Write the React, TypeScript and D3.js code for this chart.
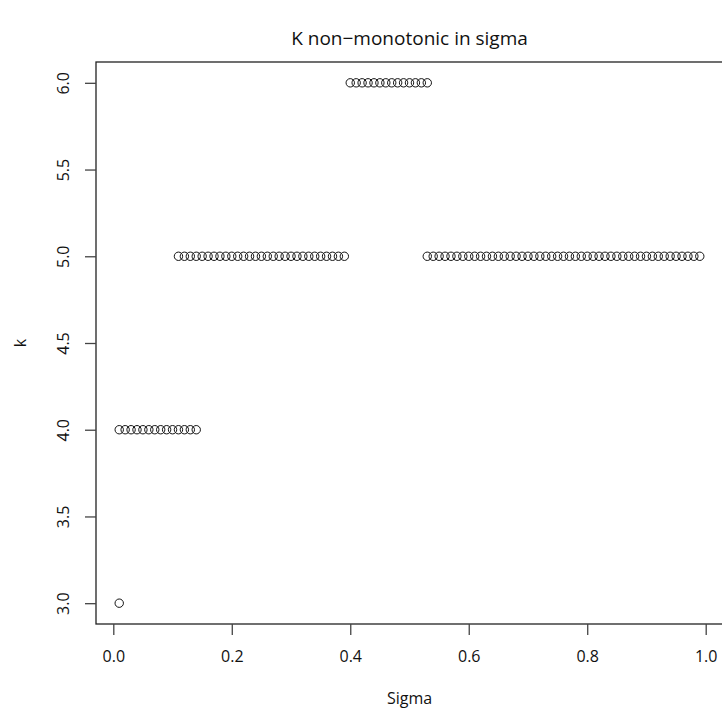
import * as d3 from "d3"
import { useEffect, useRef } from "react"

// sigma values, grouped by the k they produced
const sigmaK3 = [0.01]
const sigmaK4 = [
  0.01, 0.02, 0.03, 0.04, 0.05, 0.06, 0.07, 0.08, 0.09, 0.1, 0.11, 0.12, 0.13,
  0.14,
]
const sigmaK5a = [
  0.11, 0.12, 0.13, 0.14, 0.15, 0.16, 0.17, 0.18, 0.19, 0.2, 0.21, 0.22, 0.23,
  0.24, 0.25, 0.26, 0.27, 0.28, 0.29, 0.3, 0.31, 0.32, 0.33, 0.34, 0.35, 0.36,
  0.37, 0.38, 0.39,
]
const sigmaK6 = [
  0.4, 0.41, 0.42, 0.43, 0.44, 0.45, 0.46, 0.47, 0.48, 0.49, 0.5, 0.51, 0.52,
  0.53,
]
const sigmaK5b = [
  0.53, 0.54, 0.55, 0.56, 0.57, 0.58, 0.59, 0.6, 0.61, 0.62, 0.63, 0.64, 0.65,
  0.66, 0.67, 0.68, 0.69, 0.7, 0.71, 0.72, 0.73, 0.74, 0.75, 0.76, 0.77, 0.78,
  0.79, 0.8, 0.81, 0.82, 0.83, 0.84, 0.85, 0.86, 0.87, 0.88, 0.89, 0.9, 0.91,
  0.92, 0.93, 0.94, 0.95, 0.96, 0.97, 0.98, 0.99,
]

const xTicks = [0, 0.2, 0.4, 0.6, 0.8, 1.0]
const yTicks = [3.0, 3.5, 4.0, 4.5, 5.0, 5.5, 6.0]

const title = "K non\u2212monotonic in sigma"
const xLabel = "Sigma"
const yLabel = "k"

const App = () => {
  const svgRef = useRef<SVGSVGElement | null>(null)

  useEffect(() => {
    if (!svgRef.current) return
    const svg = d3.select(svgRef.current)
    svg.selectAll("*").remove()

    const W = 722
    const H = 717
    const margin = { top: 62, right: -1, bottom: 93, left: 96 }
    const font = "'Open Sans', sans-serif"

    const points = [
      ...sigmaK3.map((s) => ({ s, k: 3 })),
      ...sigmaK4.map((s) => ({ s, k: 4 })),
      ...sigmaK5a.map((s) => ({ s, k: 5 })),
      ...sigmaK6.map((s) => ({ s, k: 6 })),
      ...sigmaK5b.map((s) => ({ s, k: 5 })),
    ]

    // R style: data range padded by 4% each side
    const xr = d3.extent(points, (d) => d.s) as [number, number]
    const yr = d3.extent(points, (d) => d.k) as [number, number]
    const xp = (xr[1] - xr[0]) * 0.04
    const yp = (yr[1] - yr[0]) * 0.04

    const x = d3
      .scaleLinear()
      .domain([xr[0] - xp, xr[1] + xp])
      .range([margin.left, W - margin.right])
    const y = d3
      .scaleLinear()
      .domain([yr[0] - yp, yr[1] + yp])
      .range([H - margin.bottom, margin.top])

    const g = svg.append("g").style("font-family", font).style("fill", "#111")

    // plot box
    g.append("rect")
      .attr("x", x.range()[0])
      .attr("y", y.range()[1])
      .attr("width", x.range()[1] - x.range()[0])
      .attr("height", y.range()[0] - y.range()[1])
      .attr("fill", "none")
      .attr("stroke", "#222")
      .attr("stroke-width", 1.3)

    // x axis
    const xAxis = d3
      .axisBottom(x)
      .tickValues(xTicks)
      .tickSize(11)
      .tickPadding(10)
      .tickFormat(d3.format(".1f"))
    const xg = g
      .append("g")
      .attr("transform", `translate(0,${y.range()[0]})`)
      .call(xAxis)
    xg.select(".domain").remove()
    xg.selectAll(".tick line").attr("stroke", "#444").attr("stroke-width", 1.3)
    xg.selectAll(".tick text")
      .style("font-family", font)
      .style("font-size", "16px")
      .attr("fill", "#111")
      .attr("dy", "1.05em")
      .attr("y", 21)

    // y axis
    const yAxis = d3
      .axisLeft(y)
      .tickValues(yTicks)
      .tickSize(11)
      .tickFormat(d3.format(".1f"))
    const yg = g
      .append("g")
      .attr("transform", `translate(${x.range()[0]},0)`)
      .call(yAxis)
    yg.select(".domain").remove()
    yg.selectAll(".tick line").attr("stroke", "#444").attr("stroke-width", 1.3)
    yg.selectAll(".tick text")
      .style("font-family", font)
      .style("font-size", "16px")
      .attr("fill", "#111")
      .attr("x", null)
      .attr("dy", null)
      .attr("text-anchor", "middle")
      .attr("transform", "translate(-27,0) rotate(-90)")

    // points, pch = 1
    g.append("g")
      .selectAll("circle")
      .data(points)
      .enter()
      .append("circle")
      .attr("cx", (d) => x(d.s))
      .attr("cy", (d) => y(d.k))
      .attr("r", 4.2)
      .attr("fill", "none")
      .attr("stroke", "#111")
      .attr("stroke-width", 1)

    const cx = (x.range()[0] + x.range()[1]) / 2
    const cy = (y.range()[0] + y.range()[1]) / 2

    g.append("text")
      .attr("x", cx)
      .attr("y", 45)
      .attr("text-anchor", "middle")
      .style("font-size", "19px")
      .text(title)

    g.append("text")
      .attr("x", cx)
      .attr("y", 704)
      .attr("text-anchor", "middle")
      .style("font-size", "16px")
      .text(xLabel)

    g.append("text")
      .attr("transform", `translate(26,${cy}) rotate(-90)`)
      .attr("text-anchor", "middle")
      .style("font-size", "16px")
      .text(yLabel)
  }, [])

  return (
    <svg
      ref={svgRef}
      width={722}
      height={717}
      style={{ position: "absolute", left: 0, top: 0, background: "#fff" }}
    />
  )
}

export default App
